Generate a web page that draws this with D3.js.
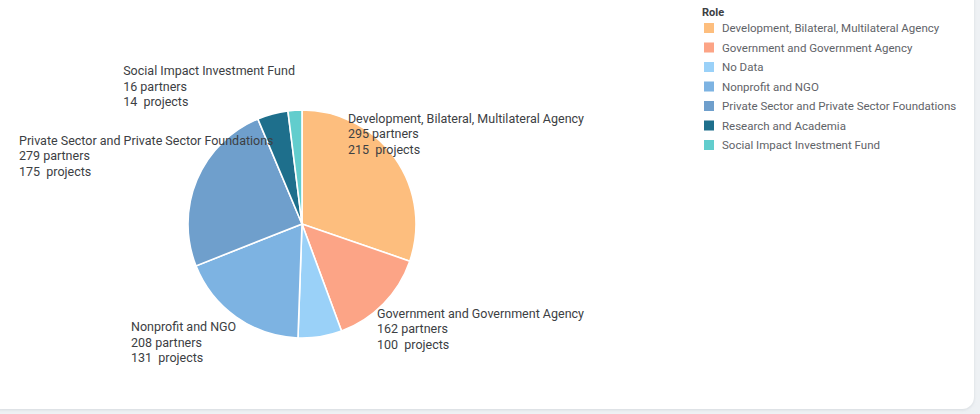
<!DOCTYPE html>
<html>
<head>
<meta charset="utf-8">
<script src="https://cdn.jsdelivr.net/npm/d3@7/dist/d3.min.js"></script>
<style>
  html, body { margin: 0; padding: 0; background: #eef1f4; }
  svg { display: block; }
</style>
</head>
<body>
<svg id="chart" width="980" height="414"></svg>
<script>
// Partner roles and their counts
const roles = [
  "Development, Bilateral, Multilateral Agency",
  "Government and Government Agency",
  "No Data",
  "Nonprofit and NGO",
  "Private Sector and Private Sector Foundations",
  "Research and Academia",
  "Social Impact Investment Fund"
];
const partners = [295, 162, 27, 208, 279, 19, 16];
const projects = [215, 100, 44, 131, 175, 31, 14];
const roleColors = ["#fdbe7e", "#fca486", "#9ad1f8", "#7db3e2", "#6f9fcc", "#1e6f8c", "#62cdcd"];
// roles that carry an outside label
const labelledRoles = [
  "Development, Bilateral, Multilateral Agency",
  "Government and Government Agency",
  "Nonprofit and NGO",
  "Private Sector and Private Sector Foundations",
  "Social Impact Investment Fund"
];

const W = 980, H = 414;
const svg = d3.select("#chart");

// card
const defs = svg.append("defs");
const f = defs.append("filter").attr("id", "sh").attr("x", "-5%").attr("y", "-5%").attr("width", "110%").attr("height", "110%");
f.append("feDropShadow").attr("dx", 0).attr("dy", 1).attr("stdDeviation", 1.5).attr("flood-color", "#9aa4ad").attr("flood-opacity", 0.3);
svg.append("rect").attr("x", -12).attr("y", -12).attr("width", 986).attr("height", 421)
  .attr("rx", 12).attr("fill", "#fff").attr("filter", "url(#sh)");

const data = roles.map((r, i) => ({ role: r, partners: partners[i], projects: projects[i], color: roleColors[i] }));

const cx = 302, cy = 224, R = 114;
const pie = d3.pie().value(d => d.projects).sort(null);
const arc = d3.arc().innerRadius(0).outerRadius(R);
const arcs = pie(data);

const g = svg.append("g").attr("transform", `translate(${cx},${cy})`);
g.selectAll("path").data(arcs).join("path")
  .attr("d", arc)
  .attr("fill", d => d.data.color)
  .attr("stroke", "#fff")
  .attr("stroke-width", 1.6);

// labels
const labelFont = 12.5, lineH = 15.5;
const minX = 19, maxX = 584;
const lg = svg.append("g").attr("font-family", "Roboto, 'Noto Sans', sans-serif")
  .attr("font-size", labelFont).attr("fill", "#3c4043");

arcs.filter(a => labelledRoles.includes(a.data.role)).forEach(a => {
  const mid = (a.startAngle + a.endAngle) / 2;
  const ex = cx + R * Math.sin(mid), ey = cy - R * Math.cos(mid);
  const lines = [a.data.role, `${a.data.partners} partners`, `${a.data.projects}  projects`];
  const t = lg.append("text").attr("xml:space", "preserve");
  lines.forEach((s, i) => t.append("tspan").attr("x", 0).attr("dy", i ? lineH : 0).text(s));
  const w = d3.max(t.selectAll("tspan").nodes(), n => n.getComputedTextLength());
  const right = Math.sin(mid) >= 0;
  const top = Math.cos(mid) > 0;
  let x = right ? ex : ex - w;
  x = Math.max(minX, Math.min(maxX - w, x));
  const y0 = top ? ey - 4 - 2 * lineH : ey + 14;
  t.attr("transform", `translate(${x},${y0})`);
});

// legend
const leg = svg.append("g").attr("font-family", "Roboto, 'Noto Sans', sans-serif");
leg.append("text").attr("x", 702).attr("y", 16).attr("font-size", 11)
  .attr("font-weight", "bold").attr("fill", "#3c4043").text("Role");
const rowY = d3.scalePoint().domain(roles).range([28, 145]);
const items = leg.selectAll("g.item").data(data).join("g").attr("class", "item")
  .attr("transform", d => `translate(704,${rowY(d.role)})`);
items.append("rect").attr("x", 0).attr("y", -5).attr("width", 10).attr("height", 10).attr("fill", d => d.color);
items.append("text").attr("x", 18).attr("y", 4).attr("font-size", 11.5).attr("fill", "#5f6368").text(d => d.role);
</script>
</body>
</html>
